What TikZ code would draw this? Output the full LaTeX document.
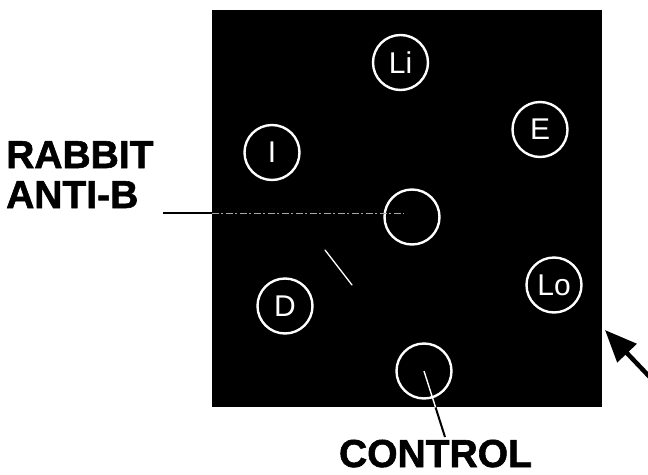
\documentclass[tikz,border=0pt]{standalone}
\usepackage{fontspec}
\setmainfont{Liberation Sans}
\newfontfamily\heavysans[FakeBold=1.5]{Liberation Sans Bold}
\usetikzlibrary{arrows.meta,calc}
\tikzset{
  well/.style={circle, draw=white, line width=2.4pt, minimum size=55pt,
    inner sep=0pt, text=white, font=\fontsize{30}{30}\selectfont},
  caption/.style={font=\heavysans\fontsize{39}{40}\selectfont, text=black, inner sep=0pt},
  leader/.style={line width=2pt, black},
  leaderin/.style={line width=1pt, white},
}
\begin{document}
\begin{tikzpicture}[x=1pt,y=-1pt]
\useasboundingbox (0,0) rectangle (648,474);
% the gel plate
\node[fill=black, draw=none, minimum width=390pt, minimum height=397pt,
  inner sep=0pt, anchor=north west] (plate) at (212,10) {};
% antigen wells round the central antiserum well
\node[well] (li) at (400.5,62.5) {Li};
\node[well] (e)  at (540,129.5) {E};
\node[well] (i)  at (272,152.5) {I};
\node[well] (ab) at (412,217) {};
\node[well] (d)  at (285,306) {D};
\node[well] (lo) at (554,285) {Lo};
\node[well] (ctl) at (424,371) {};
% precipitin line
\draw[white, line width=1.3pt, line cap=round] (325,250) -- (352,285);
% labels
\node[caption, anchor=base west, align=left] (rabbit) at (6,208) {RABBIT\\ANTI-B};
\node[caption, anchor=base] (control) at (435.5,467) {CONTROL};
% leader to the antiserum well
\coordinate (rb) at (163,213);
\coordinate (rbedge) at (plate.west |- rb);
\coordinate (rbend) at ($(rb -| ab.center)+(-8,0)$);
\draw[leader] (rb) -- (rbedge);
\draw[leaderin, gray!70!white, dash pattern=on 7pt off 2pt on 2pt off 3pt] (rbedge) -- (rbend);
% leader to the control well
\coordinate (ctop) at (445,437);
\coordinate (cedge) at (intersection of ctl.center--ctop and plate.south west--plate.south east);
\draw[leaderin, line width=1.4pt] (ctl.center) -- (cedge);
\draw[leader] (cedge) -- (ctop);
% pointer at the right edge
\coordinate (tail) at (665,393);
\coordinate (tip) at (605,330);
\draw[line width=4.5pt, -{Triangle[length=32pt,width=26pt]}] (tail) -- (tip);
\end{tikzpicture}
\end{document}
